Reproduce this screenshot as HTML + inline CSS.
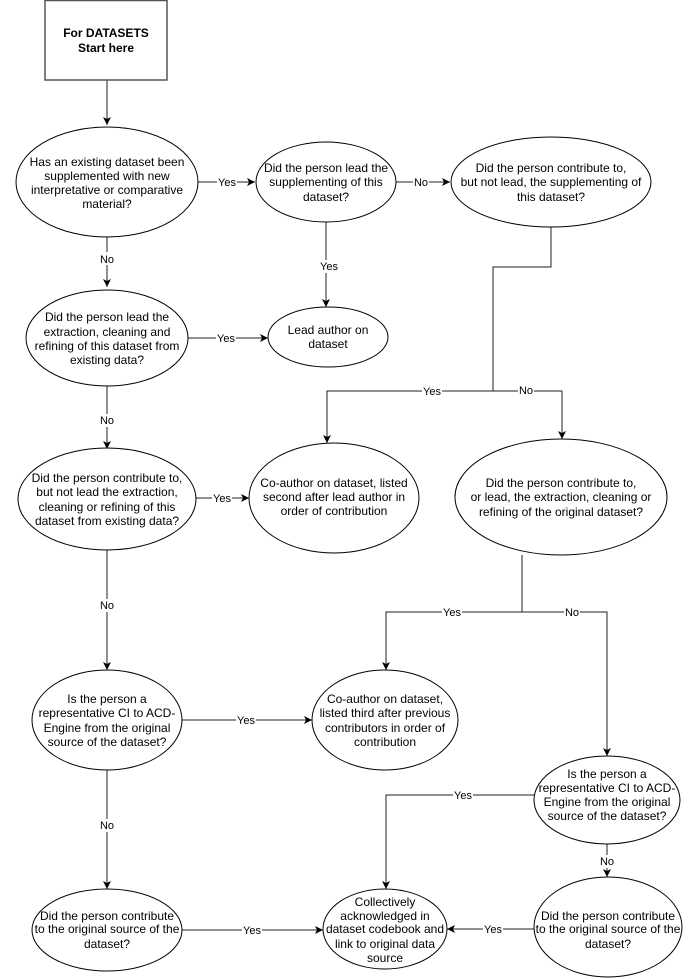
<!DOCTYPE html>
<html><head><meta charset="utf-8"><style>
html,body{margin:0;padding:0;background:#fff}
svg{display:block}
text{font-family:"Liberation Sans",Arial,sans-serif;fill:#000}
.t{font-size:12px;text-anchor:middle}
.l{font-size:11px;text-anchor:middle}
.e{fill:#fff;stroke:#000;stroke-width:1}
.c{fill:none;stroke:#222;stroke-width:1}
.lb{fill:#fff}
</style></head><body>
<svg width="685" height="978" viewBox="0 0 685 978" xmlns="http://www.w3.org/2000/svg">
<defs>
<marker id="a" markerWidth="10" markerHeight="10" refX="8" refY="4" orient="auto" markerUnits="userSpaceOnUse">
<path d="M0,0 L8,4 L0,8 L2,4 Z" fill="#000"/>
</marker>
</defs>

<!-- connectors -->
<path class="c" d="M107,80 V125" marker-end="url(#a)"/>
<path class="c" d="M198,182 H255" marker-end="url(#a)"/>
<path class="c" d="M107,237 V287" marker-end="url(#a)"/>
<path class="c" d="M396,182 H450" marker-end="url(#a)"/>
<path class="c" d="M326,222 V307" marker-end="url(#a)"/>
<path class="c" d="M188,338 H268" marker-end="url(#a)"/>
<path class="c" d="M551,227 V267 H493 V391"/>
<path class="c" d="M493,391 H327 V443" marker-end="url(#a)"/>
<path class="c" d="M493,391 H562 V439" marker-end="url(#a)"/>
<path class="c" d="M107,385 V449" marker-end="url(#a)"/>
<path class="c" d="M195,498 H249" marker-end="url(#a)"/>
<path class="c" d="M522,555 V612 H386 V670" marker-end="url(#a)"/>
<path class="c" d="M522,612 H607 V756" marker-end="url(#a)"/>
<path class="c" d="M107,550 V670" marker-end="url(#a)"/>
<path class="c" d="M182,720 H312" marker-end="url(#a)"/>
<path class="c" d="M107,770 V889" marker-end="url(#a)"/>
<path class="c" d="M534,795 H386 V889" marker-end="url(#a)"/>
<path class="c" d="M607,843 V877" marker-end="url(#a)"/>
<path class="c" d="M182,930 H323" marker-end="url(#a)"/>
<path class="c" d="M534,929 H447" marker-end="url(#a)"/>

<!-- labels -->
<g>
<rect class="lb" x="217" y="175" width="20" height="13"/><text class="l" x="227" y="186">Yes</text>
<rect class="lb" x="413" y="175" width="16" height="13"/><text class="l" x="421" y="186">No</text>
<rect class="lb" x="99" y="252" width="16" height="13"/><text class="l" x="107" y="263">No</text>
<rect class="lb" x="319" y="260" width="20" height="13"/><text class="l" x="329" y="270">Yes</text>
<rect class="lb" x="216" y="331" width="20" height="13"/><text class="l" x="226" y="342">Yes</text>
<rect class="lb" x="422" y="385" width="20" height="13"/><text class="l" x="432" y="395">Yes</text>
<rect class="lb" x="518" y="384" width="16" height="13"/><text class="l" x="526" y="394">No</text>
<rect class="lb" x="99" y="414" width="16" height="13"/><text class="l" x="107" y="424">No</text>
<rect class="lb" x="212" y="491" width="20" height="13"/><text class="l" x="222" y="502">Yes</text>
<rect class="lb" x="442" y="606" width="20" height="13"/><text class="l" x="452" y="616">Yes</text>
<rect class="lb" x="564" y="606" width="16" height="13"/><text class="l" x="572" y="616">No</text>
<rect class="lb" x="99" y="599" width="16" height="13"/><text class="l" x="107" y="609">No</text>
<rect class="lb" x="236" y="713" width="20" height="13"/><text class="l" x="246" y="724">Yes</text>
<rect class="lb" x="99" y="819" width="16" height="13"/><text class="l" x="107" y="829">No</text>
<rect class="lb" x="453" y="788" width="20" height="13"/><text class="l" x="463" y="799">Yes</text>
<rect class="lb" x="599" y="855" width="16" height="13"/><text class="l" x="607" y="865">No</text>
<rect class="lb" x="242" y="923" width="20" height="13"/><text class="l" x="252" y="934">Yes</text>
<rect class="lb" x="483" y="922" width="20" height="13"/><text class="l" x="493" y="933">Yes</text>
</g>

<!-- start box -->
<rect x="45" y="0.5" width="122" height="79.5" fill="#fff" stroke="#555" stroke-width="1.5"/>
<text class="t" x="106" y="37" font-weight="bold">For DATASETS</text>
<text class="t" x="106" y="52" font-weight="bold">Start here</text>

<!-- A -->
<ellipse class="e" cx="107" cy="182" rx="91" ry="55"/>
<text class="t" x="107" y="166">Has an existing dataset been</text>
<text class="t" x="107" y="180">supplemented with new</text>
<text class="t" x="107" y="194">interpretative or comparative</text>
<text class="t" x="107" y="208">material?</text>

<!-- B -->
<ellipse class="e" cx="326" cy="182" rx="70" ry="40"/>
<text class="t" x="326" y="172">Did the person lead the</text>
<text class="t" x="326" y="186">supplementing of this</text>
<text class="t" x="326" y="201">dataset?</text>

<!-- C -->
<ellipse class="e" cx="551" cy="182" rx="100" ry="45"/>
<text class="t" x="551" y="172">Did the person contribute to,</text>
<text class="t" x="551" y="186">but not lead, the supplementing of</text>
<text class="t" x="551" y="201">this dataset?</text>

<!-- D -->
<ellipse class="e" cx="107" cy="338" rx="81" ry="48"/>
<text class="t" x="107" y="321">Did the person lead the</text>
<text class="t" x="107" y="336">extraction, cleaning and</text>
<text class="t" x="107" y="350">refining of this dataset from</text>
<text class="t" x="107" y="364">existing data?</text>

<!-- Lead -->
<ellipse class="e" cx="328" cy="337" rx="60" ry="30"/>
<text class="t" x="328" y="334">Lead author on</text>
<text class="t" x="328" y="348">dataset</text>

<!-- E -->
<ellipse class="e" cx="107" cy="499" rx="89" ry="51"/>
<text class="t" x="107" y="482">Did the person contribute to,</text>
<text class="t" x="107" y="496">but not lead the extraction,</text>
<text class="t" x="107" y="511">cleaning or refining of this</text>
<text class="t" x="107" y="525">dataset from existing data?</text>

<!-- F -->
<ellipse class="e" cx="334" cy="498" rx="85" ry="55"/>
<text class="t" x="334" y="487">Co-author on dataset, listed</text>
<text class="t" x="334" y="501">second after lead author in</text>
<text class="t" x="334" y="515">order of contribution</text>

<!-- G -->
<ellipse class="e" cx="561" cy="497" rx="106" ry="58"/>
<text class="t" x="561" y="487">Did the person contribute to,</text>
<text class="t" x="561" y="501">or lead, the extraction, cleaning or</text>
<text class="t" x="561" y="516">refining of the original dataset?</text>

<!-- H -->
<ellipse class="e" cx="107" cy="720" rx="75" ry="50"/>
<text class="t" x="107" y="703">Is the person a</text>
<text class="t" x="107" y="717">representative CI to ACD-</text>
<text class="t" x="107" y="732">Engine from the original</text>
<text class="t" x="107" y="746">source of the dataset?</text>

<!-- I -->
<ellipse class="e" cx="385" cy="720" rx="73" ry="50"/>
<text class="t" x="385" y="703">Co-author on dataset,</text>
<text class="t" x="385" y="717">listed third after previous</text>
<text class="t" x="385" y="732">contributors in order of</text>
<text class="t" x="385" y="746">contribution</text>

<!-- J -->
<ellipse class="e" cx="607" cy="800" rx="73" ry="44"/>
<text class="t" x="607" y="778">Is the person a</text>
<text class="t" x="607" y="792">representative CI to ACD-</text>
<text class="t" x="607" y="806">Engine from the original</text>
<text class="t" x="607" y="820">source of the dataset?</text>

<!-- K -->
<ellipse class="e" cx="107" cy="930" rx="75" ry="41"/>
<text class="t" x="107" y="920">Did the person contribute</text>
<text class="t" x="107" y="933">to the original source of the</text>
<text class="t" x="107" y="948">dataset?</text>

<!-- L -->
<ellipse class="e" cx="385" cy="929" rx="62" ry="40"/>
<text class="t" x="385" y="906">Collectively</text>
<text class="t" x="385" y="920">acknowledged in</text>
<text class="t" x="385" y="933">dataset codebook and</text>
<text class="t" x="385" y="948">link to original data</text>
<text class="t" x="385" y="962">source</text>

<!-- M -->
<ellipse class="e" cx="608" cy="927" rx="74" ry="50"/>
<text class="t" x="608" y="920">Did the person contribute</text>
<text class="t" x="608" y="933">to the original source of the</text>
<text class="t" x="608" y="948">dataset?</text>
</svg>
</body></html>
